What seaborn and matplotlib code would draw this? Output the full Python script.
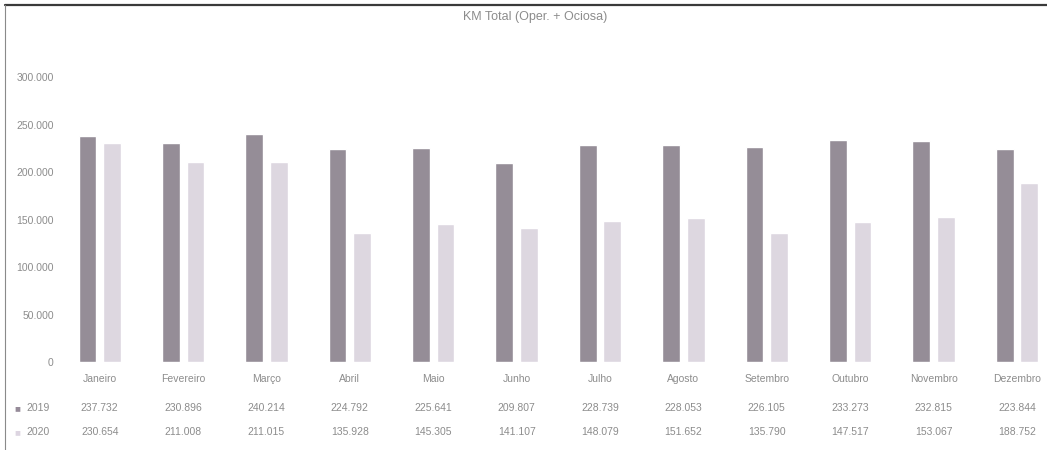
import seaborn as sns
import matplotlib.pyplot as plt
import pandas as pd
from matplotlib.ticker import FuncFormatter
from matplotlib.lines import Line2D
from matplotlib.transforms import blended_transform_factory

meses = ['Janeiro', 'Fevereiro', 'Março', 'Abril', 'Maio', 'Junho', 'Julho',
         'Agosto', 'Setembro', 'Outubro', 'Novembro', 'Dezembro']
anos = ['2019', '2020']
km_2019 = [237732, 230896, 240214, 224792, 225641, 209807, 228739,
           228053, 226105, 233273, 232815, 223844]
km_2020 = [230654, 211008, 211015, 135928, 145305, 141107, 148079,
           151652, 135790, 147517, 153067, 188752]
cores = ['#968b99', '#ddd5e1']

df = pd.DataFrame({
    'Mês': meses * 2,
    'Ano': [anos[0]] * len(meses) + [anos[1]] * len(meses),
    'KM': km_2019 + km_2020,
})

sns.set_style('white')
plt.rcParams['font.family'] = ['Liberation Sans', 'DejaVu Sans']

fig = plt.figure(figsize=(10.47, 4.5), dpi=100)
ax = fig.add_axes([0.0554, 0.1956, 0.9446, 0.633])

sns.barplot(data=df, x='Mês', y='KM', hue='Ano', palette=cores,
            width=0.59, gap=0.28, ax=ax, legend=False)

ax.set_xlim(-0.5, 11.36)
ax.set_ylim(0, 300000)
ax.set_yticks(range(0, 300001, 50000))
ax.yaxis.set_major_formatter(FuncFormatter(lambda v, p: f'{int(v):,}'.replace(',', '.')))
ax.set_xlabel('')
ax.set_ylabel('')
for s in ax.spines.values():
    s.set_visible(False)
ax.tick_params(axis='both', length=0, colors='#8c8c8c', labelsize=7.5)
ax.tick_params(axis='y', pad=3)
ax.set_xticklabels(meses, color='#8c8c8c', fontsize=7.5)
ax.tick_params(axis='x', pad=9)

# tabela de dados
trans = blended_transform_factory(ax.transData, fig.transFigure)
for i, (a, b) in enumerate(zip(km_2019, km_2020)):
    ax.text(i, 0.093, f'{a:,}'.replace(',', '.'), transform=trans, ha='center',
            va='center', fontsize=7.5, color='#8c8c8c')
    ax.text(i, 0.040, f'{b:,}'.replace(',', '.'), transform=trans, ha='center',
            va='center', fontsize=7.5, color='#8c8c8c')
for y, ano, cor in [(0.093, anos[0], cores[0]), (0.040, anos[1], cores[1])]:
    fig.text(0.014, y, '■', color=cor, fontsize=7, ha='left', va='center')
    fig.text(0.025, y, ano, color='#8c8c8c', fontsize=7.5, ha='left', va='center')

fig.text(0.511, 0.962, 'KM Total (Oper. + Ociosa)', ha='center', va='center',
         fontsize=9, color='#8c8c8c')

# moldura
fig.add_artist(Line2D([0.005, 1.0], [0.988, 0.988], color='#3a3a3a', lw=1.6))
fig.add_artist(Line2D([0.005, 0.005], [0.0, 0.988], color='#8a8a8a', lw=0.8))

fig.savefig('out.png', dpi=100, facecolor='white')
